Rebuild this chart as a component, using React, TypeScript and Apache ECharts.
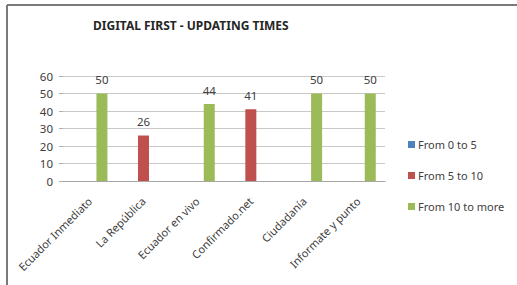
import React, { useEffect, useRef } from "react";
import * as echarts from "echarts";

const categories = [
  "Ecuador Inmediato",
  "La República",
  "Ecuador en vivo",
  "Confirmado.net",
  "Ciudadanía",
  "Informate y punto",
];
const seriesNames = ["From 0 to 5", "From 5 to 10", "From 10 to more"];
const from0to5: (number | null)[] = [null, null, null, null, null, null];
const from5to10: (number | null)[] = [null, 26, null, 41, null, null];
const from10toMore: (number | null)[] = [50, null, 44, null, 50, 50];
const yTicks = [0, 10, 20, 30, 40, 50, 60];
const colors = ["#4F81BD", "#C0504D", "#9BBB59"];

export default function App() {
  const ref = useRef<HTMLDivElement>(null);
  useEffect(() => {
    if (!ref.current) return;
    const chart = echarts.init(ref.current, null, { renderer: "svg" });
    const font = "'Noto Sans', 'Open Sans', sans-serif";
    const values = [from0to5, from5to10, from10toMore];
    chart.setOption({
      animation: false,
      backgroundColor: "#ffffff",
      textStyle: { fontFamily: font },
      title: {
        text: "DIGITAL FIRST - UPDATING TIMES",
        left: 88,
        top: 14,
        textStyle: { fontSize: 12, fontWeight: "bold", color: "#262626", fontFamily: font },
      },
      legend: {
        orient: "vertical",
        left: 403,
        top: 134,
        itemWidth: 7,
        itemHeight: 7,
        itemGap: 20,
        icon: "rect",
        data: seriesNames,
        textStyle: { fontSize: 11, color: "#404040", fontFamily: font, padding: [0, 0, 0, -2] },
      },
      grid: { left: 63, right: 132, top: 76, bottom: 104, containLabel: false },
      xAxis: {
        type: "category",
        data: categories,
        axisLine: { show: true, lineStyle: { color: "#a6a6a6" } },
        axisTick: { show: false },
        axisLabel: {
          rotate: 45,
          fontSize: 11,
          color: "#404040",
          margin: 18,
          interval: 0,
          fontFamily: font,
        },
      },
      yAxis: {
        type: "value",
        min: yTicks[0],
        max: yTicks[yTicks.length - 1],
        interval: 10,
        axisLine: { show: false },
        axisTick: { show: true, length: 4, lineStyle: { color: "#b0b0b0" } },
        splitLine: { show: true, lineStyle: { color: "#c8c8c8" } },
        axisLabel: { fontSize: 11.5, color: "#404040", margin: 10, fontFamily: font },
      },
      series: seriesNames.map((name, i) => ({
        name,
        type: "bar",
        data: values[i],
        barWidth: 11,
        barGap: "10%",
        itemStyle: { color: colors[i] },
        label: {
          show: true,
          position: "top",
          distance: 8,
          fontSize: 11.5,
          color: "#404040",
          fontFamily: font,
        },
      })),
      graphic: [
        {
          type: "line",
          shape: { x1: 7, y1: 5, x2: 517, y2: 5 },
          style: { stroke: "#7a7a7a", lineWidth: 2 },
        },
        {
          type: "line",
          shape: { x1: 7, y1: 5, x2: 7, y2: 285 },
          style: { stroke: "#7a7a7a", lineWidth: 2 },
        },
      ],
    });
    return () => chart.dispose();
  }, []);
  return (
    <div
      ref={ref}
      style={{ position: "fixed", left: 0, top: 0, width: 517, height: 285 }}
    />
  );
}
